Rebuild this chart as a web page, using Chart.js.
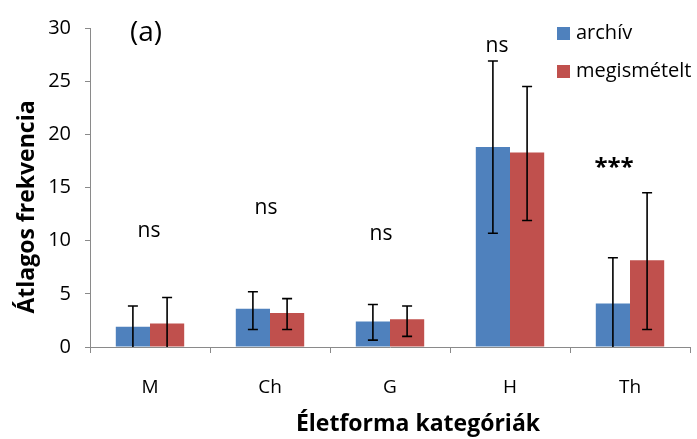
<!DOCTYPE html>
<html>
<head>
<meta charset="utf-8">
<script src="https://cdn.jsdelivr.net/npm/chart.js@4/dist/chart.umd.min.js"></script>
<style>
    html, body { margin: 0; padding: 0; background: #ffffff; }
    #wrap { width: 697px; height: 439px; position: relative; }
</style>
</head>
<body>
<div id="wrap"><canvas id="lifeformChart"></canvas></div>
<script>
// Átlagos frekvencia életforma kategóriák szerint

const categories = ['M', 'Ch', 'G', 'H', 'Th'];

const archivMeans   = [1.9, 3.6, 2.4, 18.8, 4.1];
const archivErrLow  = [0, 1.65, 0.65, 10.7, 0];
const archivErrHigh = [3.85, 5.2, 4.0, 26.9, 8.4];

const megisMeans    = [2.2, 3.2, 2.6, 18.3, 8.15];
const megisErrLow   = [0, 1.65, 1.0, 11.9, 1.65];
const megisErrHigh  = [4.65, 4.55, 3.85, 24.5, 14.5];

const sigLabels  = ['ns', 'ns', 'ns', 'ns', '***'];
const sigHeights = [10.9, 13.1, 10.6, 28.3, 17.3];

const yTicks = [0, 5, 10, 15, 20, 25, 30];

const FONT = '"Open Sans", Lato, sans-serif';
const AXIS_GRAY = '#8a8a8a';

// Error bars drawn on top of the bars
const errorBars = {
    id: 'errorBars',
    afterDatasetsDraw(chart) {
        const ctx = chart.ctx;
        const y = chart.scales.y;
        chart.data.datasets.forEach((ds, di) => {
            const meta = chart.getDatasetMeta(di);
            meta.data.forEach((bar, i) => {
                const top = y.getPixelForValue(ds.errHigh[i]);
                const bottom = y.getPixelForValue(ds.errLow[i]);
                ctx.save();
                ctx.strokeStyle = '#000000';
                ctx.lineWidth = 1.6;
                ctx.beginPath();
                ctx.moveTo(bar.x, top);
                ctx.lineTo(bar.x, bottom);
                ctx.moveTo(bar.x - 5, top);
                ctx.lineTo(bar.x + 5, top);
                if (ds.errLow[i] > 0) {
                    ctx.moveTo(bar.x - 5, bottom);
                    ctx.lineTo(bar.x + 5, bottom);
                }
                ctx.stroke();
                ctx.restore();
            });
        });
    }
};

// Significance labels, panel letter, legend and axis titles
const decorations = {
    id: 'decorations',
    afterDraw(chart) {
        const ctx = chart.ctx;
        const x = chart.scales.x;
        const y = chart.scales.y;
        const sigShift = [-1, -4, -9, -13, -16];

        ctx.save();
        ctx.fillStyle = '#000000';
        ctx.textAlign = 'center';
        ctx.textBaseline = 'middle';

        sigLabels.forEach((lbl, i) => {
            const stars = lbl === '***';
            ctx.font = (stars ? 'bold 24px ' : '21px ') + FONT;
            const py = y.getPixelForValue(sigHeights[i]) + (stars ? 5 : 0);
            ctx.fillText(lbl, x.getPixelForValue(i) + sigShift[i], py);
        });

        ctx.font = '28px ' + FONT;
        ctx.fillText('(a)', 146, 33);

        // legend
        ctx.textAlign = 'left';
        ctx.font = '20px ' + FONT;
        chart.data.datasets.forEach((ds, i) => {
            const ly = 33 + i * 38;
            ctx.fillStyle = ds.backgroundColor;
            ctx.fillRect(557, ly - 6, 13, 13);
            ctx.fillStyle = '#000000';
            ctx.fillText(ds.label, 576, ly);
        });

        // axis titles
        ctx.font = 'bold 23px ' + FONT;
        ctx.textAlign = 'center';
        ctx.fillText('Életforma kategóriák', 418, 424);

        ctx.translate(27, 207);
        ctx.rotate(-Math.PI / 2);
        ctx.fillText('Átlagos frekvencia', 0, 0);
        ctx.restore();
    }
};

new Chart(document.getElementById('lifeformChart'), {
    type: 'bar',
    data: {
        labels: categories,
        datasets: [
            {
                label: 'archív',
                data: archivMeans,
                errLow: archivErrLow,
                errHigh: archivErrHigh,
                backgroundColor: '#4f81bd',
                borderWidth: 0,
                categoryPercentage: 0.57,
                barPercentage: 1.0
            },
            {
                label: 'megismételt',
                data: megisMeans,
                errLow: megisErrLow,
                errHigh: megisErrHigh,
                backgroundColor: '#c0504d',
                borderWidth: 0,
                categoryPercentage: 0.57,
                barPercentage: 1.0
            }
        ]
    },
    options: {
        responsive: true,
        maintainAspectRatio: false,
        animation: false,
        layout: {
            padding: { top: 28, right: 7, left: 0, bottom: 0 }
        },
        plugins: {
            legend: { display: false },
            tooltip: { enabled: false }
        },
        scales: {
            x: {
                afterFit: s => { s.height = 92; },
                border: { color: AXIS_GRAY, width: 1 },
                grid: {
                    offset: true,
                    drawOnChartArea: false,
                    drawTicks: true,
                    tickLength: 6,
                    color: AXIS_GRAY
                },
                ticks: {
                    color: '#000000',
                    padding: 23,
                    font: { family: FONT, size: 19 }
                }
            },
            y: {
                min: 0,
                max: 30,
                afterFit: s => { s.width = 90; },
                afterBuildTicks: s => { s.ticks = yTicks.map(v => ({ value: v })); },
                border: { color: AXIS_GRAY, width: 1 },
                grid: {
                    drawOnChartArea: false,
                    drawTicks: true,
                    tickLength: 5,
                    color: AXIS_GRAY
                },
                ticks: {
                    color: '#000000',
                    padding: 14,
                    font: { family: FONT, size: 20 }
                }
            }
        }
    },
    plugins: [errorBars, decorations]
});
</script>
</body>
</html>
